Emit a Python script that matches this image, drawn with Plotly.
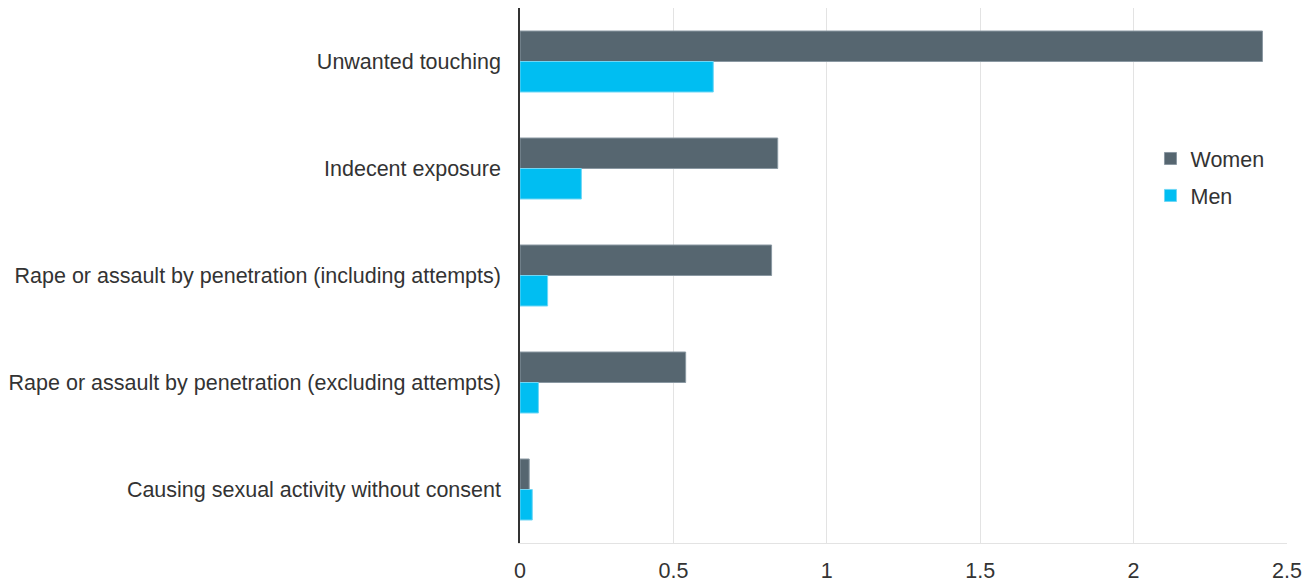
import plotly.graph_objects as go

categories = [
    "Unwanted touching",
    "Indecent exposure",
    "Rape or assault by penetration (including attempts)",
    "Rape or assault by penetration (excluding attempts)",
    "Causing sexual activity without consent",
]
women = [2.42, 0.84, 0.82, 0.54, 0.03]
men = [0.63, 0.20, 0.09, 0.06, 0.04]
x_ticks = [0, 0.5, 1, 1.5, 2, 2.5]
x_tick_labels = ["0", "0.5", "1", "1.5", "2", "2.5"]

FONT = "Liberation Sans, Arial, sans-serif"
FS = 21.5

fig = go.Figure()
fig.add_trace(go.Bar(
    y=categories, x=women, name="Women", orientation="h", legendgroup="w",
    marker=dict(color="#566670", line=dict(color="#8a98a2", width=1)),
))
fig.add_trace(go.Bar(
    y=categories, x=men, name="Men", orientation="h", legendgroup="m",
    marker=dict(color="#00bef2", line=dict(color="#6fd6f5", width=1)),
))

fig.update_layout(
    width=1312, height=581,
    barmode="group",
    bargap=0.43,
    bargroupgap=0,
    plot_bgcolor="white",
    paper_bgcolor="white",
    margin=dict(l=512, r=33, t=0, b=46),
    font=dict(family=FONT, size=FS, color="#333333"),
    showlegend=True,
    legend=dict(
        x=0.822, y=0.757, xanchor="left", yanchor="top",
        font=dict(size=FS, color="#333333"),
        bgcolor="rgba(0,0,0,0)",
        itemwidth=30,
        tracegroupgap=6,
    ),
    xaxis=dict(
        range=[0, 2.5],
        tickvals=x_ticks,
        ticktext=x_tick_labels,
        showgrid=True,
        gridcolor="#e3e3e3",
        gridwidth=1,
        zeroline=False,
        showline=True,
        linecolor="#e3e3e3",
        linewidth=1,
        ticks="",
        ticklabelstandoff=8,
        tickfont=dict(size=FS, color="#333333"),
    ),
    yaxis=dict(
        autorange="reversed",
        showline=True,
        linecolor="#333333",
        linewidth=1.5,
        ticks="",
        ticklabelstandoff=13,
        tickfont=dict(size=FS, color="#333333"),
        showgrid=False,
    ),
)

fig.write_html("out.html")
